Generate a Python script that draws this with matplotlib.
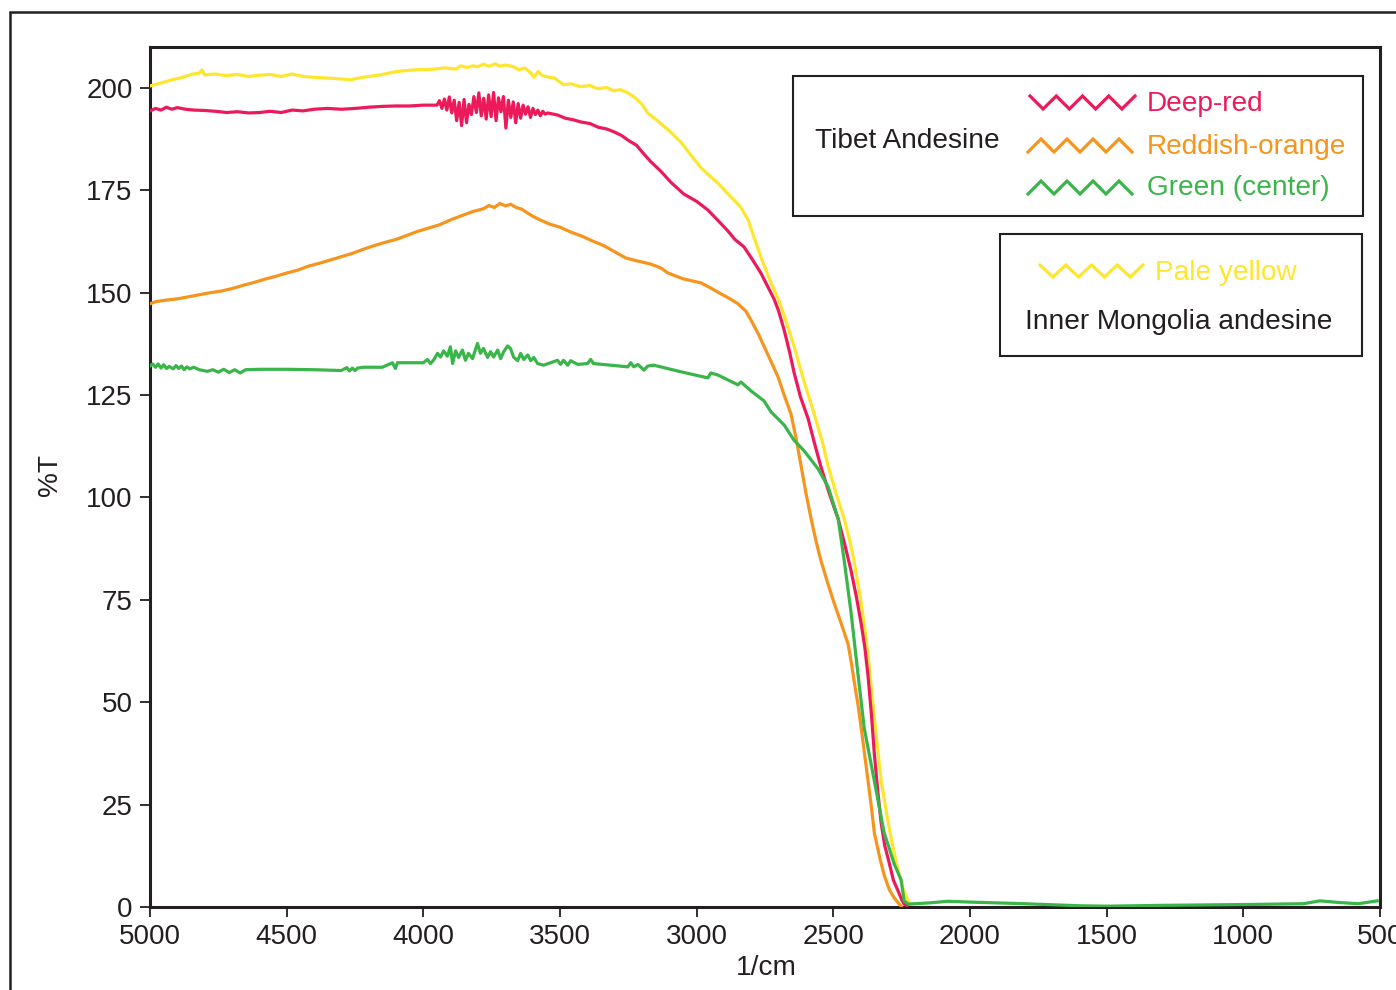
import matplotlib
matplotlib.use("Agg")
import matplotlib.pyplot as plt
from matplotlib.lines import Line2D
from matplotlib.patches import Rectangle

plt.rcParams['font.family'] = ['Liberation Sans', 'DejaVu Sans']

# ---------------- data ----------------
yellow_x = [5000, 4960, 4920, 4880, 4850, 4820, 4810, 4800, 4760, 4720, 4680, 4640, 4600, 4560,
            4520, 4480, 4440, 4400, 4350, 4300, 4267, 4230, 4200, 4157, 4100, 4036, 4000, 3960,
            3920, 3880, 3864, 3840, 3820, 3800, 3780, 3760, 3736, 3720, 3700, 3670, 3650, 3630,
            3607, 3595, 3580, 3565, 3545, 3520, 3487, 3460, 3424, 3390, 3362, 3330, 3303, 3280,
            3252, 3225, 3200, 3179, 3140, 3105, 3058, 3020, 2984, 2950, 2920, 2875, 2840, 2812,
            2790, 2765, 2735, 2702, 2680, 2644, 2610, 2570, 2540, 2519, 2490, 2460, 2440, 2424,
            2398, 2385, 2373, 2350, 2325, 2299, 2280, 2263, 2245, 2226, 2218]
yellow_y = [200.5, 201.2, 202.0, 202.6, 203.3, 203.6, 204.4, 203.2, 203.4, 203.0, 203.3, 202.8,
            203.1, 203.3, 202.8, 203.4, 202.8, 202.6, 202.4, 202.2, 202.0, 202.5, 202.8, 203.2,
            204.0, 204.4, 204.5, 204.6, 204.9, 204.6, 205.4, 205.0, 205.4, 205.2, 205.8, 205.3,
            205.9, 205.3, 205.6, 205.2, 204.4, 204.9, 203.7, 202.6, 204.0, 203.0, 202.7, 202.4,
            200.8, 201.0, 200.3, 200.6, 199.8, 200.1, 199.3, 199.6, 198.8, 197.6, 196.0, 193.9,
            191.8, 189.8, 186.8, 183.5, 180.5, 178.4, 176.6, 173.4, 171.0, 167.8, 163.5, 158.7,
            153.5, 148.5, 144.5, 137.0, 129.0, 120.4, 113.5, 107.7, 101.0, 94.7, 89.5, 84.5,
            74.2, 68.0, 61.5, 46.2, 30.8, 20.5, 14.0, 9.0, 4.5, 1.5, 0.8]

red_x = [5000, 4980, 4960, 4940, 4920, 4900, 4870, 4840, 4800, 4760, 4720, 4680, 4640, 4600,
         4560, 4520, 4480, 4440, 4400, 4350, 4300, 4250, 4200, 4150, 4100, 4050, 4000,
         3950, 3941, 3932, 3923, 3914, 3905, 3896, 3887, 3878, 3869, 3860, 3851, 3842, 3833,
         3824, 3815, 3806, 3797, 3788, 3779, 3770, 3761, 3752, 3743, 3734, 3725, 3716, 3707,
         3698, 3689, 3680, 3671, 3662, 3653, 3644, 3635, 3626, 3617, 3608, 3599, 3590, 3581,
         3572, 3563, 3554, 3545, 3510, 3480, 3450, 3424, 3390, 3360, 3330, 3303, 3275, 3250,
         3220, 3200, 3168, 3130, 3095, 3047, 3000, 2959, 2920, 2886, 2860, 2827, 2800, 2765,
         2740, 2717, 2700, 2680, 2660, 2644, 2620, 2592, 2570, 2545, 2515, 2482, 2460, 2435,
         2415, 2398, 2385, 2373, 2360, 2350, 2337, 2325, 2312, 2299, 2280, 2263, 2250, 2241, 2230]
red_y = [194.4, 195.0, 194.6, 195.3, 194.8, 195.2, 194.8, 194.6, 194.5, 194.3, 194.0, 194.2,
         193.9, 194.0, 194.3, 194.0, 194.6, 194.4, 194.8, 195.0, 194.8, 195.0, 195.3, 195.5,
         195.6, 195.6, 195.8,
         195.8, 196.9, 195.0, 197.3, 194.6, 197.8, 193.9, 197.0, 192.0, 196.5, 190.8, 197.2,
         191.5, 196.0, 193.5, 197.9, 194.0, 198.8, 193.2, 197.5, 192.4, 198.3, 193.0, 198.9,
         192.0, 197.6, 194.2, 197.9, 190.2, 197.0, 192.8, 196.6, 191.5, 196.2, 192.6, 195.8,
         193.6, 195.4, 192.8, 195.0, 193.5, 194.6, 193.2, 194.3, 193.6, 193.9, 193.4, 192.6,
         192.2, 191.7, 191.3, 190.4, 190.0, 189.3, 188.4, 187.2, 186.0, 184.4, 182.0, 179.6,
         177.0, 174.1, 172.3, 170.2, 167.5, 165.1, 163.0, 161.2, 158.5, 154.8, 151.5, 148.5,
         145.5, 140.9, 135.5, 130.6, 124.5, 119.2, 113.5, 107.4, 101.0, 94.7, 89.0, 82.1, 75.5,
         69.1, 63.5, 56.4, 46.5, 37.4, 28.0, 20.5, 15.0, 11.7, 6.5, 3.9, 1.8, 0.7, 0.3]

orange_x = [5000, 4980, 4960, 4940, 4900, 4860, 4820, 4780, 4740, 4700, 4660, 4620, 4580, 4540,
            4500, 4460, 4420, 4380, 4340, 4300, 4260, 4220, 4180, 4140, 4100, 4060, 4020, 3980,
            3940, 3900, 3860, 3820, 3780, 3760, 3740, 3720, 3700, 3680, 3660, 3640, 3620, 3600,
            3580, 3560, 3540, 3500, 3460, 3420, 3380, 3340, 3300, 3260, 3220, 3168, 3130, 3105,
            3050, 2984, 2950, 2911, 2880, 2849, 2820, 2801, 2775, 2754, 2730, 2702, 2680, 2655,
            2635, 2618, 2600, 2581, 2562, 2545, 2520, 2497, 2470, 2446, 2435, 2424, 2410, 2398,
            2385, 2373, 2360, 2350, 2330, 2314, 2295, 2277, 2260, 2252]
orange_y = [147.3, 147.8, 148.0, 148.2, 148.5, 149.0, 149.5, 150.0, 150.4, 151.0, 151.8, 152.5,
            153.3, 154.0, 154.8, 155.5, 156.5, 157.2, 158.0, 158.8, 159.6, 160.6, 161.5, 162.3,
            163.0, 164.0, 165.0, 165.8, 166.6, 167.8, 168.8, 169.8, 170.5, 171.3, 170.8, 171.8,
            171.2, 171.6, 170.8, 170.4, 169.5, 168.7, 168.0, 167.4, 166.8, 166.0, 164.8, 163.8,
            162.6, 161.5, 160.0, 158.5, 157.8, 157.0, 156.0, 154.8, 153.4, 152.4, 151.2, 149.7,
            148.6, 147.3, 145.5, 143.3, 140.0, 137.0, 133.5, 129.4, 125.0, 120.4, 114.0, 107.7,
            101.0, 94.7, 89.0, 84.5, 79.0, 74.2, 69.0, 64.2, 60.0, 55.2, 49.5, 43.7, 37.0, 30.8,
            24.0, 18.1, 12.0, 7.8, 4.2, 2.2, 0.8, 0.2]

green_x = [5000, 4990, 4980, 4970, 4960, 4950, 4940, 4930, 4915, 4905, 4895, 4885, 4875, 4865,
           4855, 4840, 4820, 4790, 4770, 4750, 4730, 4710, 4690, 4670, 4650, 4600, 4500, 4400,
           4300, 4280, 4270, 4260, 4250, 4240, 4220, 4150, 4113, 4102, 4095, 4000, 3985, 3974,
           3963, 3948, 3937, 3926, 3912, 3901, 3893, 3882, 3871, 3857, 3846, 3835, 3820, 3802,
           3791, 3780, 3765, 3754, 3743, 3728, 3717, 3706, 3692, 3681, 3670, 3655, 3644, 3633,
           3618, 3607, 3596, 3582, 3560, 3509, 3498, 3487, 3472, 3461, 3435, 3399, 3388, 3377,
           3252, 3241, 3230, 3215, 3193, 3179, 3157, 3058, 2959, 2948, 2922, 2849, 2838, 2801,
           2754, 2728, 2680, 2644, 2607, 2556, 2519, 2482, 2460, 2435, 2409, 2387, 2350, 2314,
           2277, 2252, 2241, 2226, 2150, 2080, 2000, 1800, 1600, 1500, 1300, 1000, 780, 720,
           650, 580, 510]
green_y = [132.1, 132.6, 131.8, 132.6, 131.6, 132.4, 131.5, 132.0, 131.4, 132.2, 131.5, 132.1,
           131.2, 131.9, 131.4, 131.8, 131.2, 130.8, 131.2, 130.6, 131.3, 130.5, 131.2, 130.4,
           131.2, 131.3, 131.3, 131.2, 131.0, 131.7, 130.9, 131.6, 131.0, 131.6, 131.8, 131.8,
           132.9, 131.5, 132.9, 132.9, 133.7, 132.7, 133.5, 135.2, 134.3, 135.8, 134.5, 136.8,
           132.7, 135.8, 134.2, 136.0, 133.5, 135.2, 133.9, 137.6, 135.2, 136.4, 134.2, 135.6,
           134.3, 136.0, 133.9, 135.6, 137.0, 136.4, 134.3, 133.4, 135.2, 133.7, 134.8, 133.4,
           134.2, 132.7, 132.3, 133.5, 132.5, 133.5, 132.3, 133.4, 132.5, 132.7, 133.7, 132.7,
           131.9, 132.9, 131.9, 132.5, 131.1, 132.1, 132.3, 130.7, 129.2, 130.4, 129.9, 127.5,
           128.2, 126.0, 123.6, 120.9, 117.7, 114.0, 111.4, 107.0, 102.6, 94.7, 84.5, 71.8,
           56.4, 43.7, 30.8, 18.1, 10.5, 6.6, 1.5, 0.7, 1.0, 1.4, 1.2, 0.8, 0.3, 0.2, 0.4, 0.6,
           0.8, 1.5, 1.1, 0.8, 1.5]

x_ticks = [5000, 4500, 4000, 3500, 3000, 2500, 2000, 1500, 1000, 500]
y_ticks = [0, 25, 50, 75, 100, 125, 150, 175, 200]

legend_tibet = ["Deep-red", "Reddish-orange", "Green (center)"]
legend_mongolia = ["Pale yellow"]

# ---------------- style ----------------
C_RED = "#ED1A5B"
C_ORANGE = "#F7941E"
C_GREEN = "#3AB54A"
C_YELLOW = "#FFE62E"
C_TEXT = "#231F20"

W, H = 1396, 990
fig = plt.figure(figsize=(W / 100, H / 100), dpi=100)

def fx(px):
    return px / W

def fy(py):
    return 1 - py / H

ax = fig.add_axes([fx(150), fy(907), fx(1380) - fx(150), fy(47) - fy(907)])

lw = 2.3
ax.plot(yellow_x, yellow_y, color=C_YELLOW, lw=lw, zorder=3)
ax.plot(red_x, red_y, color=C_RED, lw=lw, zorder=4)
ax.plot(orange_x, orange_y, color=C_ORANGE, lw=lw, zorder=4)
ax.plot(green_x, green_y, color=C_GREEN, lw=lw, zorder=5)

ax.set_xlim(5000, 500)
ax.set_ylim(0, 210)
ax.set_xticks(x_ticks)
ax.set_xticklabels([str(t) for t in x_ticks])
ax.set_yticks(y_ticks)
ax.set_yticklabels([str(t) for t in y_ticks])
for s in ax.spines.values():
    s.set_linewidth(2.2)
    s.set_color(C_TEXT)
ax.tick_params(direction='out', length=7.5, width=1.3, colors=C_TEXT,
               labelsize=20, pad=5)
ax.tick_params(axis='x', pad=5)

fs = 20.2
fig.text(fx(766), fy(968), "1/cm", ha='center', va='center', fontsize=fs, color=C_TEXT)
fig.text(fx(50), fy(475), "%T", ha='center', va='center', fontsize=fs, color=C_TEXT,
         rotation=90)

# outer frame
fig.patches.append(Rectangle((fx(10), fy(1200)), fx(1600), fy(12) - fy(1200),
                             transform=fig.transFigure, fill=False, lw=1.8,
                             edgecolor=C_TEXT, clip_on=False))

# legend boxes
for (x0, y0, x1, y1) in [(793, 76, 1363, 216), (1000, 234, 1362, 356)]:
    fig.patches.append(Rectangle((fx(x0), fy(y1)), fx(x1) - fx(x0), fy(y0) - fy(y1),
                                 transform=fig.transFigure, fill=False, lw=1.5,
                                 edgecolor=C_TEXT, zorder=10))

def zig(x0, x1, ytop, ybot, color, start_high):
    n = 8
    xs, ys = [], []
    for i in range(n + 1):
        xs.append(fx(x0 + (x1 - x0) * i / n))
        hi = (i % 2 == 0) == start_high
        ys.append(fy(ytop if hi else ybot))
    fig.add_artist(Line2D(xs, ys, transform=fig.transFigure, color=color, lw=2.3,
                          solid_joinstyle='miter'))

zig(1030, 1135, 96, 109, C_RED, True)
zig(1028, 1132, 139, 152, C_ORANGE, False)
zig(1028, 1132, 181, 194, C_GREEN, False)
zig(1040, 1143, 265, 277, C_YELLOW, True)

fig.text(fx(1147), fy(104), legend_tibet[0], color=C_RED, fontsize=fs, va='center', ha='left')
fig.text(fx(1147), fy(147), legend_tibet[1], color=C_ORANGE, fontsize=fs, va='center', ha='left')
fig.text(fx(1147), fy(188), legend_tibet[2], color=C_GREEN, fontsize=fs, va='center', ha='left')
fig.text(fx(815), fy(141), "Tibet Andesine", color=C_TEXT, fontsize=fs, va='center', ha='left')
fig.text(fx(1155), fy(273), legend_mongolia[0], color=C_YELLOW, fontsize=fs, va='center', ha='left')
fig.text(fx(1025), fy(322), "Inner Mongolia andesine", color=C_TEXT, fontsize=fs,
         va='center', ha='left')

fig.savefig("out.png", dpi=100)
